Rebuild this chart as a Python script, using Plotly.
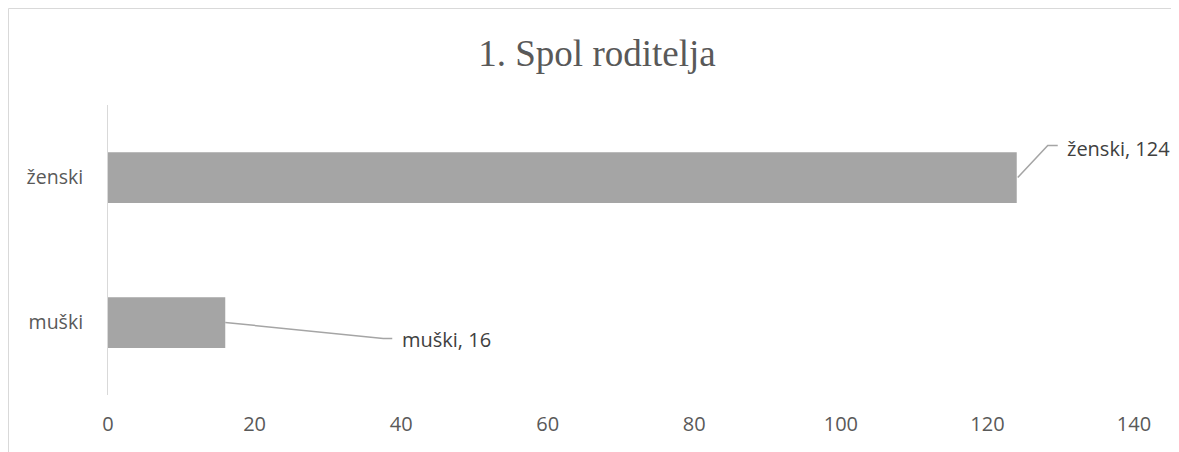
import plotly.graph_objects as go

categories = ["muški", "ženski"]
values = [16, 124]
title_text = "1. Spol roditelja"
x_ticks = [0, 20, 40, 60, 80, 100, 120, 140]

# page has an 8px body margin, so the figure is 8px smaller than the window
W, H = 1171, 444
ML, MR, MT, MB = 100, 45, 97, 57
pw = W - ML - MR
ph = H - MT - MB
FONT = "Open Sans"

fig = go.Figure()
fig.add_trace(go.Bar(
    x=values, y=categories, orientation="h",
    marker=dict(color="#a5a5a5", line=dict(width=0)),
    width=0.35, hoverinfo="skip",
))

# label offsets (pixels) relative to bar end
label_cfg = {
    "ženski": dict(dx=48, dy=29, path="M 1,0 L 31,32 L 41,32"),
    "muški": dict(dx=175, dy=-17, path="M 0,0 L 158,-16 L 167,-16"),
}
for cat, val in zip(categories, values):
    c = label_cfg[cat]
    fig.add_annotation(
        x=val, y=cat, xref="x", yref="y", text=f"{cat}, {val}",
        showarrow=False, xanchor="left", yanchor="middle",
        xshift=c["dx"], yshift=c["dy"],
        font=dict(family=FONT, size=20, color="#404040"),
    )
    fig.add_shape(
        type="path", xref="x", yref="y", xsizemode="pixel", ysizemode="pixel",
        xanchor=val, yanchor=cat, path=c["path"],
        line=dict(color="#a5a5a5", width=1.5),
    )

# chart outer border
fig.add_shape(
    type="rect", xref="paper", yref="paper",
    x0=(0.5 - ML) / pw, x1=(W + 5 - ML) / pw,
    y0=-(MB + 5) / ph, y1=(H - MB - 0.5) / ph,
    line=dict(color="#d9d9d9", width=1), fillcolor="rgba(0,0,0,0)", layer="below",
)

fig.update_layout(
    width=W, height=H,
    margin=dict(l=ML, r=MR, t=MT, b=MB),
    paper_bgcolor="white", plot_bgcolor="white",
    showlegend=False,
    title=dict(text=title_text, x=589 / W, xref="container", xanchor="center",
               y=1 - 45 / H, yref="container", yanchor="middle",
               font=dict(family="Liberation Serif", size=37, color="#595959")),
    xaxis=dict(range=[0, 140], tickvals=x_ticks, showgrid=False, zeroline=False,
               showline=False, ticks="", ticklabelstandoff=15,
               tickfont=dict(family=FONT, size=20, color="#595959")),
    yaxis=dict(categoryorder="array", categoryarray=categories, range=[-0.5, 1.5],
               showgrid=False, zeroline=False, showline=True, linecolor="#d9d9d9",
               linewidth=1, ticks="", ticklabelstandoff=20,
               tickfont=dict(family=FONT, size=19.5, color="#595959")),
)

fig.write_html("out.html")
